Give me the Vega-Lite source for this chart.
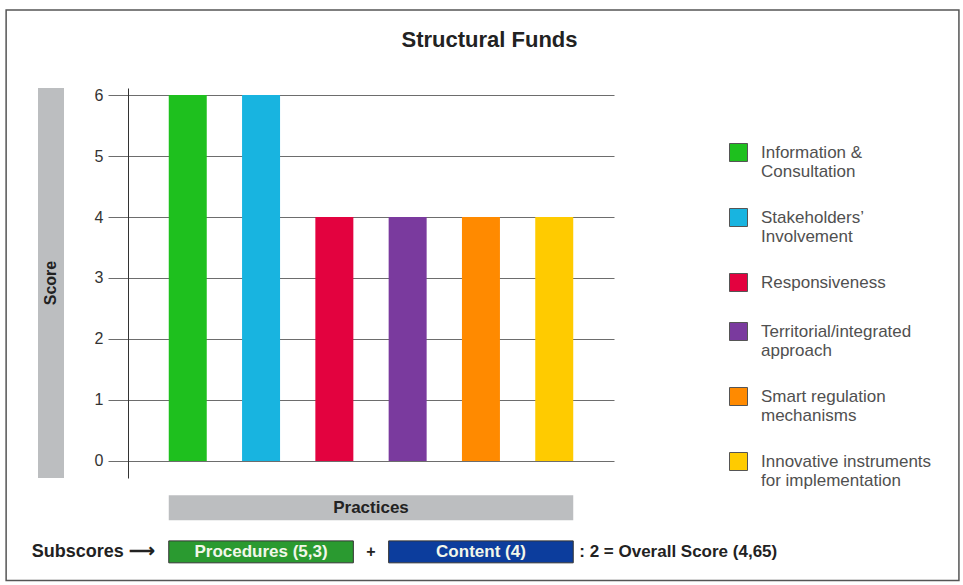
{
  "$schema": "https://vega.github.io/schema/vega-lite/v6.json",
  "background": "white",
  "padding": {"left": 5, "top": 9, "right": 0, "bottom": 0},
  "title": {"text": "Structural Funds", "font": "Liberation Sans", "fontSize": 22, "fontWeight": "bold", "color": "#222222", "anchor": "middle", "dx": 7, "offset": -43},
  "bounds": "flush",
  "spacing": 64,
  "config": {
    "view": {"stroke": null},
    "font": "Liberation Sans",
    "text": {"font": "Liberation Sans"}
  },
  "datasets": {
    "practices": [
      {"practice": "Information & Consultation", "score": 6},
      {"practice": "Stakeholders’ Involvement", "score": 6},
      {"practice": "Responsiveness", "score": 4},
      {"practice": "Territorial/integrated approach", "score": 4},
      {"practice": "Smart regulation mechanisms", "score": 4},
      {"practice": "Innovative instruments for implementation", "score": 4}
    ],
    "subscores": [
      {"part": "Procedures", "score": 5.3, "label": "Procedures (5,3)", "first": "Information & Consultation", "middle": "Stakeholders’ Involvement", "last": "Responsiveness"},
      {"part": "Content", "score": 4, "label": "Content (4)", "first": "Territorial/integrated approach", "middle": "Smart regulation mechanisms", "last": "Innovative instruments for implementation"}
    ],
    "overall": [{"label": ": 2 = Overall Score (4,65)", "score": 4.65}]
  },
  "hconcat": [
    {
      "width": 26,
      "height": 390,
      "view": {"fill": "#bcbec0", "stroke": null},
      "data": {"values": [{"axis": "Score"}]},
      "mark": {"type": "text", "angle": 270, "fontSize": 16, "fontWeight": "bold", "color": "#222222", "font": "Liberation Sans"},
      "encoding": {"text": {"field": "axis", "type": "nominal"}}
    },
    {
      "width": 486,
      "height": 390,
      "layer": [
        {
          "data": {"name": "practices"},
          "mark": {"type": "bar"},
          "encoding": {
            "x": {
              "field": "practice", "type": "nominal", "axis": null,
              "scale": {
                "domain": ["Information & Consultation", "Stakeholders’ Involvement", "Responsiveness", "Territorial/integrated approach", "Smart regulation mechanisms", "Innovative instruments for implementation"],
                "paddingInner": 0.4816, "paddingOuter": 0.556
              }
            },
            "y": {
              "field": "score", "type": "quantitative",
              "scale": {"domain": [-0.279, 6.115], "nice": false, "zero": false},
              "axis": {
                "values": [0, 1, 2, 3, 4, 5, 6], "format": "d", "title": null, "grid": true,
                "gridColor": "#6d6d6d", "gridWidth": 1, "gridOpacity": 1,
                "domainColor": "#333333", "domainWidth": 1,
                "tickSize": 20, "tickColor": "#6d6d6d", "tickWidth": 1,
                "labelFontSize": 16, "labelColor": "#333333", "labelPadding": 5, "labelFont": "Liberation Sans"
              }
            },
            "y2": {"datum": 0},
            "color": {
              "field": "practice", "type": "nominal",
              "scale": {
                "domain": ["Information & Consultation", "Stakeholders’ Involvement", "Responsiveness", "Territorial/integrated approach", "Smart regulation mechanisms", "Innovative instruments for implementation"],
                "range": ["#1ec01e", "#18b4e0", "#e3023f", "#7a3a9e", "#ff8a00", "#ffcb00"]
              },
              "legend": {
                "orient": "none", "legendX": 691, "legendY": 55, "title": null,
                "symbolType": "square", "symbolSize": 324, "symbolStrokeWidth": 1, "symbolStrokeColor": "#555555",
                "labelFontSize": 17, "labelColor": "#505050", "labelFont": "Liberation Sans",
                "labelOffset": 13, "labelLimit": 300, "rowPadding": 26,
                "labelExpr": "datum.label == 'Information & Consultation' ? ['Information &', 'Consultation'] : datum.label == 'Stakeholders’ Involvement' ? ['Stakeholders’', 'Involvement'] : datum.label == 'Territorial/integrated approach' ? ['Territorial/integrated', 'approach'] : datum.label == 'Smart regulation mechanisms' ? ['Smart regulation', 'mechanisms'] : datum.label == 'Innovative instruments for implementation' ? ['Innovative instruments', 'for implementation'] : datum.label"
              }
            }
          }
        },
        {
          "data": {"values": [{"label": "Practices"}]},
          "mark": {"type": "rect", "color": "#bcbec0"},
          "encoding": {
            "x": {"datum": "Information & Consultation", "bandPosition": 0},
            "x2": {"datum": "Innovative instruments for implementation", "bandPosition": 1},
            "y": {"datum": -0.56},
            "y2": {"datum": -0.97}
          }
        },
        {
          "data": {"values": [{"label": "Practices"}]},
          "mark": {"type": "text", "fontSize": 17, "fontWeight": "bold", "color": "#222222", "baseline": "middle", "align": "center"},
          "encoding": {
            "x": {"datum": "Responsiveness", "bandPosition": 1.4645},
            "y": {"datum": -0.765},
            "text": {"field": "label", "type": "nominal"}
          }
        },
        {
          "data": {"name": "subscores"},
          "mark": {"type": "rect", "stroke": "#333333", "strokeWidth": 1},
          "encoding": {
            "x": {"field": "first", "type": "nominal", "bandPosition": 0},
            "x2": {"field": "last", "bandPosition": 1},
            "y": {"datum": -1.31},
            "y2": {"datum": -1.67},
            "fill": {"field": "part", "type": "nominal", "legend": null, "scale": {"domain": ["Procedures", "Content"], "range": ["#2a9a30", "#0c3d9d"]}}
          }
        },
        {
          "data": {"name": "subscores"},
          "mark": {"type": "text", "fontSize": 17, "fontWeight": "bold", "color": "#f2f7ea", "baseline": "middle", "align": "center"},
          "encoding": {
            "x": {"field": "middle", "type": "nominal", "bandPosition": 0.5},
            "y": {"datum": -1.49},
            "text": {"field": "label", "type": "nominal"}
          }
        },
        {
          "data": {"values": [{"label": "+"}]},
          "mark": {"type": "text", "fontSize": 16, "fontWeight": "bold", "color": "#222222", "baseline": "middle", "align": "center"},
          "encoding": {
            "x": {"datum": "Responsiveness", "bandPosition": 1.4645},
            "y": {"datum": -1.49},
            "text": {"field": "label", "type": "nominal"}
          }
        },
        {
          "data": {"values": [{"label": "Subscores ⟶"}]},
          "mark": {"type": "text", "fontSize": 18, "fontWeight": "bold", "color": "#222222", "baseline": "middle", "align": "right", "dx": -14},
          "encoding": {
            "x": {"datum": "Information & Consultation", "bandPosition": 0},
            "y": {"datum": -1.49},
            "text": {"field": "label", "type": "nominal"}
          }
        },
        {
          "data": {"name": "overall"},
          "mark": {"type": "text", "fontSize": 17, "fontWeight": "bold", "color": "#222222", "baseline": "middle", "align": "left", "dx": 6},
          "encoding": {
            "x": {"datum": "Innovative instruments for implementation", "bandPosition": 1},
            "y": {"datum": -1.49},
            "text": {"field": "label", "type": "nominal"}
          }
        },
        {
          "data": {"values": [{"frame": "border"}]},
          "mark": {"type": "rect", "fillOpacity": 0, "stroke": "#555555", "strokeWidth": 1.5},
          "encoding": {
            "x": {"datum": "Information & Consultation", "bandPosition": -4.28},
            "x2": {"datum": "Innovative instruments for implementation", "bandPosition": 11.15},
            "y": {"datum": 7.394},
            "y2": {"datum": -1.96}
          }
        }
      ]
    }
  ]
}
